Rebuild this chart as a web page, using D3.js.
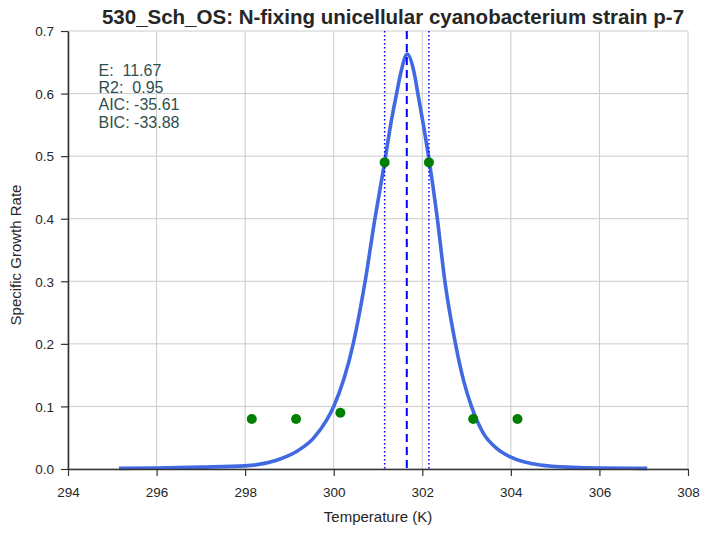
<!DOCTYPE html>
<html><head><meta charset="utf-8">
<script src="https://cdn.jsdelivr.net/npm/d3@7"></script>
<style>body{margin:0;background:#fff}svg{display:block}text{font-family:"Liberation Sans",Arial,sans-serif}</style>
</head><body><svg id="c" width="710" height="533"></svg>
<script>
const titleText = "530_Sch_OS: N-fixing unicellular cyanobacterium strain p-7";
const xTicks = [294, 296, 298, 300, 302, 304, 306, 308];
const yTicks = [0.0, 0.1, 0.2, 0.3, 0.4, 0.5, 0.6, 0.7];
const obsTemp = [298.15, 299.15, 300.15, 301.15, 302.15, 303.15, 304.15];
const obsRate = [0.08, 0.08, 0.09, 0.49, 0.49, 0.08, 0.08];
const fitTemp = [295.15, 296.0, 297.0, 298.0, 298.71, 299.16, 299.54, 299.84, 300.0, 300.44, 300.71, 300.93, 301.15, 301.29, 301.42, 301.51, 301.66, 301.82, 301.90, 302.02, 302.16, 302.34, 302.51, 302.75, 302.93, 303.11, 303.38, 303.68, 304.0, 304.66, 305.41, 306.0, 307.08];
const fitRate = [0.001, 0.0016, 0.003, 0.005, 0.014, 0.028, 0.049, 0.078, 0.1, 0.2, 0.3, 0.4, 0.49, 0.552, 0.6, 0.632, 0.663, 0.632, 0.6, 0.552, 0.491, 0.4, 0.3, 0.2, 0.142, 0.1, 0.057, 0.033, 0.019, 0.0064, 0.0027, 0.0016, 0.001];
const tPeak = [301.65];
const tBounds = [301.15, 302.15];
const statLines = ["E:  11.67", "R2:  0.95", "AIC: -35.61", "BIC: -33.88"];

const svg = d3.select("#c");
const L = 68, R = 688, T = 31, B = 469;
const x = d3.scaleLinear().domain([294, 308]).range([L, R]);
const y = d3.scaleLinear().domain([0, 0.7]).range([B, T]);

// grid
const g = svg.append("g");
g.selectAll(".gx").data(xTicks).join("line")
  .attr("x1", d => x(d)).attr("x2", d => x(d)).attr("y1", T).attr("y2", B)
  .attr("stroke", "#cccccc").attr("stroke-width", 1);
g.selectAll(".gy").data(yTicks).join("line")
  .attr("x1", L).attr("x2", R).attr("y1", d => y(d)).attr("y2", d => y(d))
  .attr("stroke", "#cccccc").attr("stroke-width", 1);

// fitted curve
const pts = fitTemp.map((t, i) => [t, fitRate[i]]);
svg.append("path").datum(pts)
  .attr("d", d3.line().x(d => x(d[0])).y(d => y(d[1])).curve(d3.curveMonotoneX))
  .attr("fill", "none").attr("stroke", "#4169e1").attr("stroke-width", 3.6);

// vertical lines
svg.selectAll(".vd").data(tPeak).join("line")
  .attr("x1", d => x(d)).attr("x2", d => x(d)).attr("y1", T).attr("y2", B)
  .attr("stroke", "#0000ff").attr("stroke-width", 2).attr("stroke-dasharray", "8,5");
svg.selectAll(".vb").data(tBounds).join("line")
  .attr("x1", d => x(d)).attr("x2", d => x(d)).attr("y1", T).attr("y2", B)
  .attr("stroke", "#0000ff").attr("stroke-width", 1.5).attr("stroke-dasharray", "1.5,2.5");

// points
svg.selectAll(".pt").data(obsTemp).join("circle")
  .attr("cx", d => x(d)).attr("cy", (d, i) => y(obsRate[i])).attr("r", 5)
  .attr("fill", "#008000");

// axes
const xa = svg.append("g").attr("transform", `translate(0,${B})`)
  .call(d3.axisBottom(x).tickValues(xTicks).tickFormat(d3.format("d")).tickSize(7).tickSizeOuter(0));
const ya = svg.append("g").attr("transform", `translate(${L},0)`)
  .call(d3.axisLeft(y).tickValues(yTicks).tickFormat(d3.format(".1f")).tickSize(7).tickSizeOuter(0));
[xa, ya].forEach(a => {
  a.select(".domain").attr("stroke", "#333333").attr("stroke-width", 1.6);
  a.selectAll(".tick line").attr("stroke", "#333333").attr("stroke-width", 1.2);
  a.selectAll(".tick text").attr("fill", "#262626").style("font-size", "13.5px");
});
xa.selectAll(".tick text").attr("dy", "0").attr("y", 28);
ya.selectAll(".tick text").attr("x", -14).attr("dy", "0.35em");

// labels
svg.append("text").attr("x", (L + R) / 2).attr("y", 522).attr("text-anchor", "middle")
  .attr("fill", "#262626").style("font-size", "15px").text("Temperature (K)");
svg.append("text").attr("transform", `translate(21,${(T + B) / 2 + 5}) rotate(-90)`).attr("text-anchor", "middle")
  .attr("fill", "#262626").style("font-size", "15px").text("Specific Growth Rate");
svg.append("text").attr("x", (L + R) / 2 + 15).attr("y", 24).attr("text-anchor", "middle")
  .attr("fill", "#262626").style("font-size", "20.5px").style("font-weight", "bold").text(titleText);

// stats
svg.append("g").selectAll("text").data(statLines).join("text")
  .attr("x", 98.5).attr("y", (d, i) => 75.7 + i * 17.3)
  .attr("fill", "#2f4f4f").style("font-size", "16px").style("white-space", "pre")
  .attr("xml:space", "preserve").text(d => d);
</script></body></html>
